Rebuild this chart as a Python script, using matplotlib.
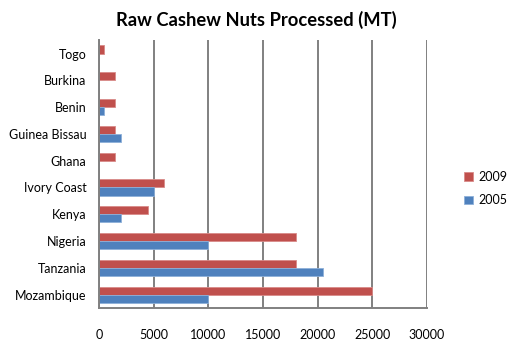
import matplotlib.pyplot as plt
import numpy as np

plt.rcParams['font.family'] = ['Lato', 'DejaVu Sans']

countries = ['Mozambique', 'Tanzania', 'Nigeria', 'Kenya', 'Ivory Coast',
             'Ghana', 'Guinea Bissau', 'Benin', 'Burkina', 'Togo']
val_2005 = [10000, 20500, 10000, 2000, 5000, 0, 2000, 500, 0, 0]
val_2009 = [25000, 18000, 18000, 4500, 6000, 1500, 1500, 1500, 1500, 500]

red = '#C0504D'
blue = '#4F81BD'

fig = plt.figure(figsize=(5.12, 3.4), dpi=100)
ax = fig.add_axes([0.193, 0.094, 0.641, 0.788])

y = np.arange(len(countries))
h = 0.3
ax.barh(y + h / 2, val_2009, height=h, color=red, label='2009',
        edgecolor='#d98b89', linewidth=0.6)
ax.barh(y - h / 2, val_2005, height=h, color=blue, label='2005',
        edgecolor='#8eb0d9', linewidth=0.6)

ax.set_xlim(0, 30000)
ax.set_ylim(-0.5, len(countries) - 0.5)
ax.set_xticks(range(0, 30001, 5000))
ax.set_yticks(y)
ax.set_yticklabels(countries)
ax.tick_params(axis='x', length=0, pad=15, labelsize=9)
ax.tick_params(axis='y', length=0, pad=9, labelsize=9)

ax.xaxis.grid(True, color='#808080', linewidth=1.4)
ax.set_axisbelow(True)
for s in ['top', 'right']:
    ax.spines[s].set_visible(False)
for s in ['left', 'bottom']:
    ax.spines[s].set_color('#808080')
    ax.spines[s].set_linewidth(1.4)

fig.text(0.5, 0.94, 'Raw Cashew Nuts Processed (MT)', ha='center', va='center',
         fontsize=13.2, fontweight='bold')

fig.legend(loc='center left', bbox_to_anchor=(0.885, 0.445), frameon=False,
           fontsize=9, handlelength=0.7, handleheight=0.7, handletextpad=0.4,
           labelspacing=0.9)

plt.savefig('out.png', dpi=100)
